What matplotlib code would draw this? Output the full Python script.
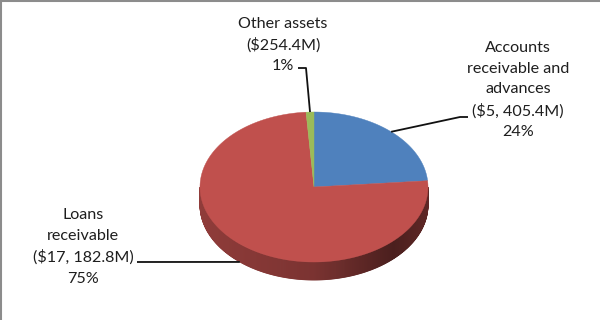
import numpy as np
import matplotlib
matplotlib.use("Agg")
import matplotlib.pyplot as plt
from matplotlib.lines import Line2D

# ---- data (Excel order: clockwise from 12 o'clock) ----
categories = ["Accounts\nreceivable and\nadvances", "Loans\nreceivable", "Other assets"]
values_m = [5405.4, 17182.8, 254.4]
value_labels = ["($5, 405.4M)", "($17, 182.8M)", "($254.4M)"]
pct_labels = ["24%", "75%", "1%"]
colors = ["#4F81BD", "#C0504D", "#9BBB59"]

plt.rcParams['font.family'] = ['Lato', 'DejaVu Sans']

W, H = 600, 320
fig = plt.figure(figsize=(6, 3.2), dpi=100)
ax = fig.add_axes([0, 0, 1, 1])
ax.set_xlim(0, W)
ax.set_ylim(H, 0)
ax.axis('off')

# pie geometry (pixels)
cx, cy, a, b, depth = 314.0, 187.0, 114.0, 75.0, 18.0

def pt(theta_deg, dy=0.0):
    t = np.radians(theta_deg)
    return cx + a * np.cos(t), cy - b * np.sin(t) + dy

vals = np.array(values_m, dtype=float)
fracs = vals / vals.sum()
# clockwise from 90 deg
starts = 90.0 - np.concatenate([[0], np.cumsum(fracs)[:-1]]) * 360.0
ends = starts - fracs * 360.0

def shade(hexcol, f):
    c = np.array(matplotlib.colors.to_rgb(hexcol))
    return np.clip(c * f, 0, 1)

grad_t = [0.0, 0.5, 0.85, 1.0]
grad_f = [0.75, 0.64, 0.39, 0.49]

# ---- side (front half: angles 180..360) ----
for i in range(len(vals)):
    s, e = ends[i], starts[i]
    for off in (-360, 0, 360):
        lo = max(s + off, 180.0)
        hi = min(e + off, 360.0)
        if hi > lo:
            th = np.linspace(lo, hi, max(2, int((hi - lo) / 0.5) + 1))
            for k in range(len(th) - 1):
                x0, y0 = pt(th[k])
                x1, y1 = pt(th[k + 1])
                xm = 0.5 * (x0 + x1)
                t = (xm - (cx - a)) / (2 * a)
                f = np.interp(t, grad_t, grad_f)
                ax.fill([x0, x1, x1, x0], [y0, y1, y1 + depth, y0 + depth],
                        color=shade(colors[i], f), lw=0.6, ec=shade(colors[i], f))

# ---- top faces ----
for i in range(len(vals)):
    th = np.linspace(starts[i], ends[i], max(3, int(abs(starts[i] - ends[i]) / 0.5) + 1))
    xs, ys = zip(*[pt(t) for t in th])
    ax.fill([cx] + list(xs), [cy] + list(ys), color=colors[i], lw=0.3, ec=colors[i])

# ---- labels & leader lines ----
txtc = "#1e1e1e"
fs = 11.6
label_pos = [(518, 90), (83, 247), (283, 45)]
for i in range(len(vals)):
    txt = f"{categories[i]}\n{value_labels[i]}\n{pct_labels[i]}"
    ax.text(label_pos[i][0], label_pos[i][1], txt, ha='center', va='center',
            fontsize=fs, color=txtc, linespacing=1.58)

mids = (starts + ends) / 2
lead_from = [[(468, 117), (460, 117)], [(137, 262)], [(298, 68), (306, 68)]]
for i in range(len(vals)):
    mx, my = pt(mids[i])
    if np.sin(np.radians(mids[i])) < 0:
        my += depth
    pts = lead_from[i] + [(mx, my)]
    ax.plot([p[0] for p in pts], [p[1] for p in pts], color="#111111", lw=1.3,
            solid_capstyle='butt')

# border (top and left)
fig.add_artist(Line2D([0, 1], [1 - 1/H, 1 - 1/H], transform=fig.transFigure, color="#8c8c8c", lw=1.5))
fig.add_artist(Line2D([1/W, 1/W], [0, 1], transform=fig.transFigure, color="#8c8c8c", lw=1.5))

fig.savefig("out.png", dpi=100, facecolor="white")
